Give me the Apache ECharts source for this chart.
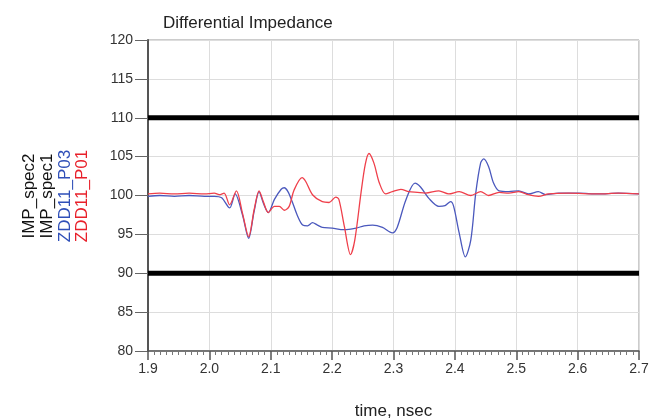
<html>
<head>
    <meta charset='utf-8'/>
    <title>Differential Impedance</title>
    <style>
        body { margin: 0; padding: 0; background: #fff; }
        #chart { width: 652px; height: 420px; }
    </style>
</head>
<body>
<div id='chart'></div>
<script src="https://cdn.jsdelivr.net/npm/echarts@6/dist/echarts.min.js"></script>
<script type="text/javascript">
    // time axis (nsec) and impedance values
    var timeP03 = [1.900, 1.919, 1.943, 1.967, 1.992, 2.008, 2.020, 2.033, 2.042, 2.054, 2.064, 2.073, 2.081, 2.088, 2.096,
        2.106, 2.117, 2.122, 2.128, 2.135, 2.143, 2.152, 2.160, 2.168, 2.176, 2.184, 2.200, 2.219, 2.239, 2.252, 2.266,
        2.282, 2.298, 2.306, 2.320, 2.335, 2.344, 2.358, 2.374, 2.384, 2.393, 2.398, 2.407, 2.417, 2.426, 2.434, 2.442,
        2.447, 2.455, 2.463, 2.472, 2.488, 2.504, 2.520, 2.536, 2.548, 2.569, 2.602, 2.634, 2.666, 2.700];
    var zddP03 = [99.9, 100.0, 99.9, 100.0, 99.9, 99.9, 99.7, 98.4, 100.2, 97.5, 94.5, 98.0, 100.5, 99.0, 97.8,
        99.5, 100.8, 101.0, 100.5, 99.2, 97.5, 96.2, 96.1, 96.5, 96.2, 95.9, 95.8, 95.6, 95.8, 96.1, 96.2,
        95.9, 95.2, 95.9, 99.4, 101.6, 101.1, 99.6, 98.6, 98.7, 99.2, 98.6, 95.2, 92.1, 94.3, 100.3, 104.2,
        104.7, 103.7, 101.6, 100.6, 100.5, 100.6, 100.2, 100.5, 100.1, 100.3, 100.3, 100.2, 100.3, 100.2];

    var timeP01 = [1.900, 1.919, 1.943, 1.967, 1.992, 2.008, 2.016, 2.024, 2.033, 2.044, 2.054, 2.064, 2.073, 2.081, 2.088,
        2.096, 2.106, 2.114, 2.122, 2.130, 2.138, 2.151, 2.157, 2.168, 2.184, 2.195, 2.206, 2.211, 2.220, 2.230, 2.237,
        2.247, 2.254, 2.260, 2.268, 2.277, 2.287, 2.298, 2.312, 2.325, 2.339, 2.352, 2.374, 2.390, 2.407, 2.426, 2.442,
        2.455, 2.472, 2.488, 2.504, 2.520, 2.536, 2.553, 2.585, 2.634, 2.666, 2.700];
    var zddP01 = [100.2, 100.3, 100.2, 100.3, 100.2, 100.3, 100.1, 100.3, 98.8, 100.6, 97.7, 94.7, 98.2, 100.6, 99.2,
        97.8, 98.6, 98.6, 98.1, 98.6, 100.7, 102.3, 101.8, 100.1, 99.2, 99.1, 99.8, 99.5, 96.0, 92.4, 94.3,
        100.3, 104.0, 105.4, 104.2, 101.6, 100.2, 100.5, 100.8, 100.5, 100.4, 100.3, 100.6, 100.2, 100.5, 100.0, 100.5,
        100.0, 100.4, 100.3, 100.5, 100.1, 99.9, 100.2, 100.3, 100.2, 100.3, 100.2];

    var specTime = [1.9, 2.7];
    var impSpec2 = [110, 110];
    var impSpec1 = [90, 90];

    function pairs(xs, ys) {
        var out = [];
        for (var i = 0; i < xs.length; i++) out.push([xs[i], ys[i]]);
        return out;
    }

    var font = 'Liberation Sans, Arial, sans-serif';
    var chart = echarts.init(document.getElementById('chart'), null, {renderer: 'canvas'});

    var option = {
        backgroundColor: '#fff',
        animation: false,
        title: {
            text: 'Differential Impedance',
            left: 158,
            top: 10,
            textStyle: {fontFamily: font, fontSize: 17, fontWeight: 'normal', color: '#222'}
        },
        grid: {
            left: 148, right: 13, top: 40, bottom: 69,
            outerBoundsMode: 'none',
            containLabel: false,
            show: true, borderColor: '#999', borderWidth: 1
        },
        xAxis: {
            type: 'value',
            min: 1.9, max: 2.7, interval: 0.1,
            name: 'time, nsec',
            nameLocation: 'middle',
            nameGap: 52,
            nameTextStyle: {fontFamily: font, fontSize: 17, color: '#222'},
            axisLine: {lineStyle: {color: '#555', width: 1.5}},
            axisTick: {length: 9, lineStyle: {color: '#555', width: 1.5}},
            minorTick: {show: true, splitNumber: 10, length: 4, lineStyle: {color: '#777'}},
            axisLabel: {
                fontFamily: font, fontSize: 14, color: '#333', margin: 11,
                formatter: function (v) { return v.toFixed(1); }
            },
            splitLine: {show: true, lineStyle: {color: '#ddd', width: 1}}
        },
        yAxis: {
            type: 'value',
            min: 80, max: 120, interval: 5,
            axisLine: {show: true, lineStyle: {color: '#555', width: 2}},
            axisTick: {show: true, length: 13, lineStyle: {color: '#666'}},
            axisLabel: {fontFamily: font, fontSize: 14, color: '#333', margin: 15},
            splitLine: {show: true, lineStyle: {color: '#ddd', width: 1}}
        },
        graphic: [
            {type: 'text', x: 29, y: 196, rotation: Math.PI / 2,
                style: {text: 'IMP_spec2', font: '17px ' + font, fill: '#111', align: 'center', verticalAlign: 'middle'}},
            {type: 'text', x: 47, y: 196, rotation: Math.PI / 2,
                style: {text: 'IMP_spec1', font: '17px ' + font, fill: '#111', align: 'center', verticalAlign: 'middle'}},
            {type: 'text', x: 65, y: 196, rotation: Math.PI / 2,
                style: {text: 'ZDD11_P03', font: '17px ' + font, fill: '#2f4fb8', align: 'center', verticalAlign: 'middle'}},
            {type: 'text', x: 82, y: 196, rotation: Math.PI / 2,
                style: {text: 'ZDD11_P01', font: '17px ' + font, fill: '#e8202a', align: 'center', verticalAlign: 'middle'}}
        ],
        series: [
            {
                name: 'IMP_spec2', type: 'line', symbol: 'none',
                data: pairs(specTime, impSpec2),
                lineStyle: {color: '#000', width: 5}
            },
            {
                name: 'IMP_spec1', type: 'line', symbol: 'none',
                data: pairs(specTime, impSpec1),
                lineStyle: {color: '#000', width: 5}
            },
            {
                name: 'ZDD11_P03', type: 'line', symbol: 'none', smooth: 0.3,
                data: pairs(timeP03, zddP03),
                lineStyle: {color: '#4a58bd', width: 1.3}
            },
            {
                name: 'ZDD11_P01', type: 'line', symbol: 'none', smooth: 0.3,
                data: pairs(timeP01, zddP01),
                lineStyle: {color: '#ef3f4a', width: 1.3}
            }
        ]
    };
    chart.setOption(option);
</script>
</body>
</html>
